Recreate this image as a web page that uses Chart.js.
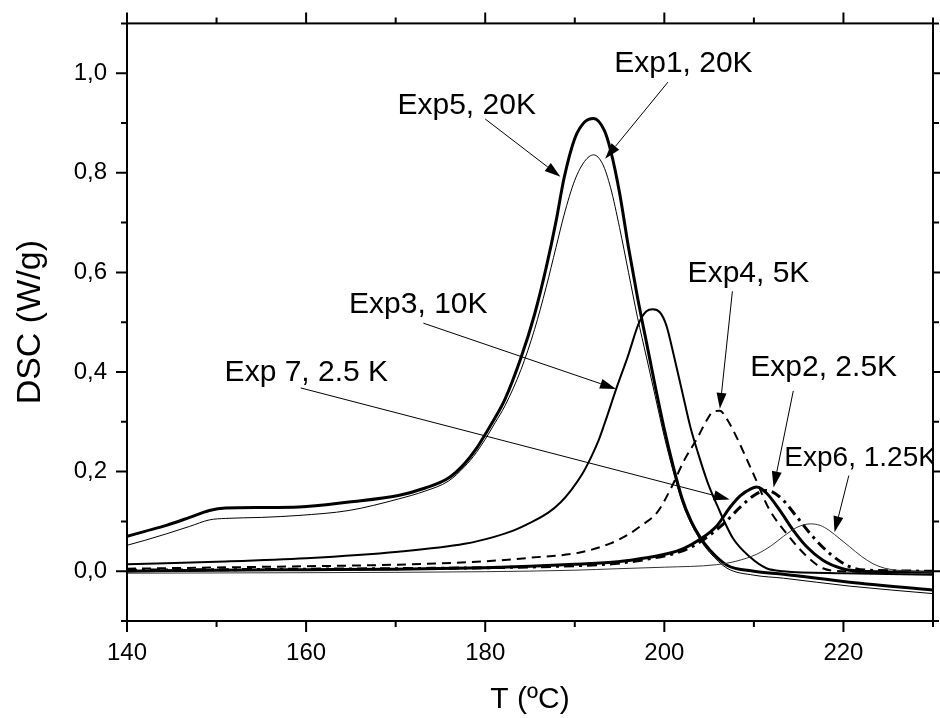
<!DOCTYPE html>
<html lang="es">
  <head>
    <meta charset="UTF-8" />
    <title>DSC</title>
    <script src="https://cdn.jsdelivr.net/npm/chart.js"></script>
    <style>
      html,
      body {
        margin: 0;
        padding: 0;
        background: #fff;
      }
      #wrap {
        width: 940px;
        height: 718px;
      }
    </style>
  </head>
  <body>
    <div id="wrap"><canvas id="dscChart" width="940" height="718"></canvas></div>
    <script>
      // T (ºC) / DSC (W/g)
      const exp5T = [140, 142, 144.4, 147, 149.2, 151, 155, 159.2, 164.8, 170.3, 173.3, 175.9, 177.7, 179, 180, 181.1, 182.2, 184, 185.5, 186.8, 187.9, 188.8, 190, 191.1, 192.1, 193.3, 194, 195, 196, 197, 198, 199, 200, 201, 202, 203, 204, 205.1, 207, 210, 213.3, 220.7, 230];
      const exp5Y = [0.07, 0.08, 0.092, 0.108, 0.122, 0.127, 0.128, 0.129, 0.139, 0.152, 0.167, 0.187, 0.216, 0.246, 0.275, 0.308, 0.345, 0.429, 0.515, 0.609, 0.702, 0.789, 0.869, 0.902, 0.909, 0.885, 0.845, 0.76, 0.65, 0.55, 0.46, 0.37, 0.285, 0.21, 0.145, 0.1, 0.068, 0.042, 0.012, 0.0, -0.006, -0.022, -0.038];

      const exp1T = [140, 142, 144.4, 147, 149.2, 151, 155, 159.2, 164.8, 170.3, 173.3, 175.9, 177.7, 179, 180, 181.1, 182.2, 184, 185.5, 186.8, 187.9, 188.8, 190, 191.1, 192.1, 193.1, 194, 195, 196, 197, 198, 199, 200, 201, 202, 203, 204, 205.1, 207, 210, 213.3, 220.7, 230];
      const exp1Y = [0.052, 0.062, 0.075, 0.09, 0.103, 0.106, 0.108, 0.112, 0.122, 0.145, 0.161, 0.181, 0.21, 0.238, 0.265, 0.298, 0.332, 0.405, 0.485, 0.57, 0.65, 0.715, 0.785, 0.823, 0.836, 0.818, 0.77, 0.69, 0.6, 0.51, 0.43, 0.35, 0.27, 0.2, 0.138, 0.095, 0.063, 0.037, 0.006, -0.008, -0.014, -0.03, -0.045];

      const exp3T = [140, 150, 160, 170.3, 177.7, 181, 183.2, 185, 187, 188.4, 189.6, 190.8, 191.8, 192.6, 193.3, 194.8, 195.9, 197.2, 198, 198.7, 199.5, 200.2, 201.1, 202, 202.9, 203.8, 204.8, 205.9, 207.7, 209.6, 211.4, 213.3, 220, 230];
      const exp3Y = [0.014, 0.019, 0.026, 0.039, 0.055, 0.069, 0.082, 0.097, 0.117, 0.138, 0.163, 0.194, 0.228, 0.26, 0.295, 0.375, 0.43, 0.5, 0.522, 0.526, 0.52, 0.495, 0.43, 0.36, 0.29, 0.235, 0.18, 0.132, 0.065, 0.028, 0.006, 0.0, -0.004, -0.007];

      const exp4T = [140, 160, 170, 180, 185, 190.7, 194, 196, 197.3, 199.2, 200.7, 202.2, 203.7, 204.8, 205.4, 206.2, 207, 208.1, 209.2, 210.2, 211.6, 214, 215.9, 217.7, 220, 230];
      const exp4Y = [0.005, 0.01, 0.013, 0.02, 0.027, 0.038, 0.056, 0.074, 0.09, 0.118, 0.165, 0.222, 0.268, 0.305, 0.32, 0.322, 0.305, 0.268, 0.225, 0.185, 0.128, 0.068, 0.03, 0.006, 0.0, -0.002];

      const exp7T = [140, 150, 160, 170, 180, 185, 190, 194.8, 198, 200.3, 202.2, 204, 205.9, 207.4, 208.5, 209.6, 210.3, 211.4, 212.9, 214.4, 215.9, 217.7, 219.9, 222, 230];
      const exp7Y = [0.0, 0.002, 0.003, 0.004, 0.007, 0.01, 0.014, 0.019, 0.027, 0.035, 0.046, 0.064, 0.092, 0.13, 0.152, 0.165, 0.169, 0.157, 0.122, 0.082, 0.049, 0.022, 0.005, 0.0, -0.002];

      const exp2T = [140, 160, 180, 190, 194.8, 198, 202.2, 204, 206.6, 208.5, 210, 211.4, 212.9, 214.8, 216.6, 218.5, 220.7, 222.7, 230];
      const exp2Y = [0.002, 0.004, 0.007, 0.011, 0.016, 0.024, 0.042, 0.059, 0.095, 0.129, 0.152, 0.162, 0.149, 0.109, 0.069, 0.035, 0.009, 0.002, 0.0];

      const exp6T = [140, 160, 180, 190, 194.8, 200, 205.8, 208, 210.3, 212, 213.3, 214.8, 216.3, 217.4, 218.4, 219.6, 220.7, 222, 223.3, 224.6, 226, 230];
      const exp6Y = [-0.004, -0.003, -0.001, 0.002, 0.005, 0.008, 0.013, 0.02, 0.034, 0.052, 0.07, 0.088, 0.095, 0.092, 0.082, 0.065, 0.049, 0.03, 0.015, 0.006, 0.002, -0.002];

      // annotations (data coordinates)
      const noteText = ["Exp1, 20K", "Exp5, 20K", "Exp3, 10K", "Exp4, 5K", "Exp2, 2.5K", "Exp6, 1.25K", "Exp 7, 2.5 K"];
      const noteSize = [30, 30, 30, 30, 30, 28, 30];
      const noteAt = [[194.4, 1.002], [170.2, 0.918], [164.8, 0.518], [202.6, 0.58], [209.6, 0.392], [213.4, 0.212], [150.9, 0.382]];
      const arrowFrom = [[200.4, 0.982], [180, 0.908], [173.1, 0.498], [207.6, 0.562], [214.4, 0.362], [220.6, 0.192], [159.4, 0.368]];
      const arrowTo = [[193.4, 0.828], [188.4, 0.792], [194.6, 0.366], [206.2, 0.326], [212.2, 0.168], [219, 0.078], [207.3, 0.144]];

      const FONT = '"Liberation Sans", Arial, sans-serif';
      const pts = (ts, vs) => ts.map((t, i) => ({ x: t, y: vs[i] }));

      const frameTicks = {
        id: "frameTicks",
        afterDraw(chart) {
          const { ctx, chartArea: a } = chart;
          const { x, y } = chart.scales;
          ctx.save();
          ctx.strokeStyle = "#000";
          ctx.lineWidth = 2;
          ctx.strokeRect(a.left, a.top, a.right - a.left, a.bottom - a.top);
          ctx.beginPath();
          x.ticks.forEach((t) => {
            const px = x.getPixelForValue(t.value);
            const len = t.label ? 11 : 6;
            ctx.moveTo(px, a.bottom);
            ctx.lineTo(px, a.bottom + len);
            ctx.moveTo(px, a.top);
            ctx.lineTo(px, a.top - len);
          });
          y.ticks.forEach((t) => {
            const py = y.getPixelForValue(t.value);
            const len = t.label ? 11 : 6;
            ctx.moveTo(a.left, py);
            ctx.lineTo(a.left - len, py);
            ctx.moveTo(a.right, py);
            ctx.lineTo(a.right + len, py);
          });
          ctx.stroke();

          // labels + arrows, clipped to the plot frame
          ctx.beginPath();
          ctx.rect(a.left, a.top, a.right - a.left, a.bottom - a.top);
          ctx.clip();
          ctx.fillStyle = "#000";
          ctx.textAlign = "left";
          ctx.textBaseline = "alphabetic";
          ctx.lineWidth = 1;
          noteText.forEach((txt, i) => {
            ctx.font = noteSize[i] + "px " + FONT;
            ctx.fillText(txt, x.getPixelForValue(noteAt[i][0]), y.getPixelForValue(noteAt[i][1]));
            const x0 = x.getPixelForValue(arrowFrom[i][0]);
            const y0 = y.getPixelForValue(arrowFrom[i][1]);
            const x1 = x.getPixelForValue(arrowTo[i][0]);
            const y1 = y.getPixelForValue(arrowTo[i][1]);
            const ang = Math.atan2(y1 - y0, x1 - x0);
            const hl = 16, hw = 5;
            const bx = x1 - hl * Math.cos(ang), by = y1 - hl * Math.sin(ang);
            ctx.beginPath();
            ctx.moveTo(x0, y0);
            ctx.lineTo(bx, by);
            ctx.stroke();
            ctx.beginPath();
            ctx.moveTo(x1, y1);
            ctx.lineTo(bx + hw * Math.sin(ang), by - hw * Math.cos(ang));
            ctx.lineTo(bx - hw * Math.sin(ang), by + hw * Math.cos(ang));
            ctx.closePath();
            ctx.fill();
          });
          ctx.restore();
        },
      };

      const line = (label, ts, vs, width, dash, color) => ({
        label: label,
        data: pts(ts, vs),
        borderColor: color || "#000",
        borderWidth: width,
        borderDash: dash || [],
        pointRadius: 0,
        fill: false,
        cubicInterpolationMode: "monotone",
      });

      new Chart(document.getElementById("dscChart"), {
        type: "line",
        data: {
          datasets: [
            line("Exp6, 1.25K", exp6T, exp6Y, 1, null, "#333"),
            line("Exp4, 5K", exp4T, exp4Y, 2, [9, 6]),
            line("Exp2, 2.5K", exp2T, exp2Y, 3, [10, 5, 3, 5]),
            line("Exp7, 2.5K", exp7T, exp7Y, 3),
            line("Exp3, 10K", exp3T, exp3Y, 2),
            line("Exp1, 20K", exp1T, exp1Y, 1),
            line("Exp5, 20K", exp5T, exp5Y, 3),
          ],
        },
        options: {
          responsive: false,
          devicePixelRatio: 1,
          animation: false,
          layout: { padding: { top: 21, right: 3, left: 0, bottom: 0 } },
          plugins: { legend: { display: false }, tooltip: { enabled: false } },
          scales: {
            x: {
              type: "linear",
              min: 140,
              max: 230,
              afterFit: (s) => {
                s.height = 97;
              },
              grid: { display: false, drawTicks: true, tickLength: 11 },
              border: { display: false },
              ticks: {
                stepSize: 10,
                padding: 7,
                color: "#000",
                font: { family: FONT, size: 24 },
                maxRotation: 0,
                autoSkip: false,
                callback: (v) => ((v - 140) % 20 === 0 ? String(v) : ""),
              },
              title: {
                display: true,
                text: "T (ºC)",
                color: "#000",
                font: { family: FONT, size: 30 },
                padding: { top: 0, bottom: 0 },
              },
            },
            y: {
              min: -0.1,
              max: 1.1,
              afterFit: (s) => {
                s.width = 127;
              },
              grid: { display: false, drawTicks: true, tickLength: 11 },
              border: { display: false },
              ticks: {
                stepSize: 0.1,
                padding: 9,
                color: "#000",
                font: { family: FONT, size: 24 },
                autoSkip: false,
                callback: (v) => {
                  const k = Math.round(v * 10);
                  return k % 2 === 0 ? (k / 10).toFixed(1).replace(".", ",") : "";
                },
              },
              title: {
                display: true,
                text: "DSC (W/g)",
                color: "#000",
                font: { family: FONT, size: 34 },
                padding: { top: 10, bottom: 0 },
              },
            },
          },
        },
        plugins: [frameTicks],
      });
    </script>
  </body>
</html>
